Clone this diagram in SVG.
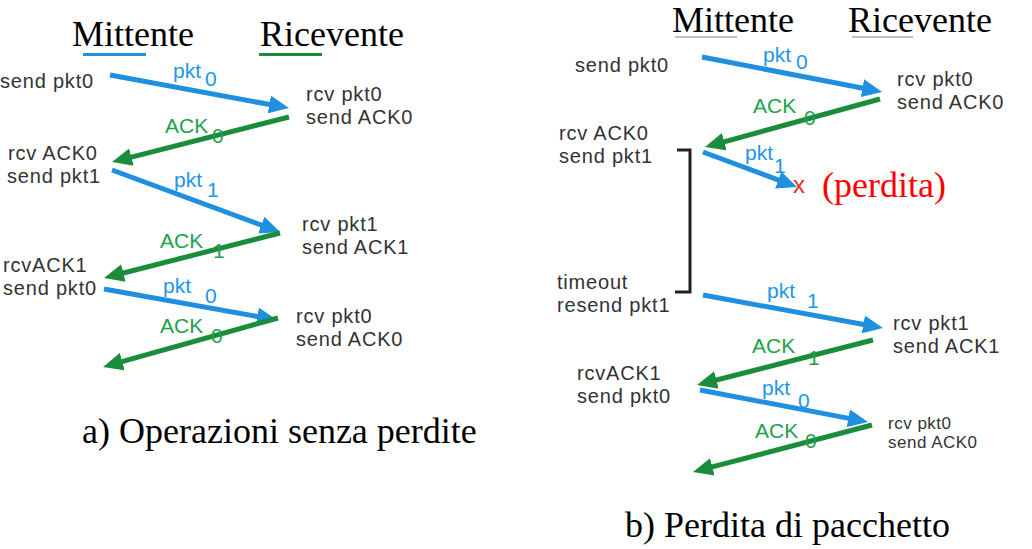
<svg xmlns="http://www.w3.org/2000/svg" width="1032" height="549" viewBox="0 0 1032 549">
<style>
.serif{font-family:"Liberation Serif","Times New Roman",serif;font-size:36px;fill:#000}
.lbl{font-family:"Liberation Sans",Arial,sans-serif;font-size:20px;letter-spacing:0.8px;fill:#333}
.small{font-size:17px;letter-spacing:0.5px}
.bl{font-family:"Liberation Sans",Arial,sans-serif;font-size:21px;fill:#2196e8}
.gl{font-family:"Liberation Sans",Arial,sans-serif;font-size:21px;fill:#22a04a}
.ab{stroke:#1f8fe0;stroke-width:5;fill:none;marker-end:url(#hb)}
.ag{stroke:#1b8c3c;stroke-width:5;fill:none;marker-end:url(#hg)}
</style>
<defs>
<marker id="hb" markerUnits="userSpaceOnUse" markerWidth="20" markerHeight="18" refX="6" refY="9" orient="auto"><path d="M0,0 L20,9 L0,18 z" fill="#1f8fe0"/></marker>
<marker id="hg" markerUnits="userSpaceOnUse" markerWidth="20" markerHeight="18" refX="6" refY="9" orient="auto"><path d="M0,0 L20,9 L0,18 z" fill="#1b8c3c"/></marker>
</defs>
<rect width="1032" height="549" fill="#fff"/>

<g id="panel-a-headers">
<text class="serif" x="72" y="46">Mittente</text>
<line x1="83" y1="54.5" x2="146" y2="54.5" stroke="#1f8fe0" stroke-width="3"/>
<text class="serif" x="260" y="46">Ricevente</text>
<line x1="259" y1="54.5" x2="322" y2="54.5" stroke="#1b8c3c" stroke-width="3"/>
</g>

<g id="a-sender-events">
<text class="lbl" x="0" y="88">send pkt0</text>
<text class="lbl" x="8" y="160">rcv ACK0</text>
<text class="lbl" x="7" y="183">send pkt1</text>
<text class="lbl" x="3" y="272">rcvACK1</text>
<text class="lbl" x="3" y="295">send pkt0</text>
</g>
<g id="a-receiver-events">
<text class="lbl" x="306" y="101">rcv pkt0</text>
<text class="lbl" x="306" y="124">send ACK0</text>
<text class="lbl" x="302" y="231">rcv pkt1</text>
<text class="lbl" x="302" y="254">send ACK1</text>
<text class="lbl" x="296" y="323">rcv pkt0</text>
<text class="lbl" x="296" y="346">send ACK0</text>
</g>

<g id="connectors">
<line class="ab" x1="110" y1="75" x2="275.2" y2="105.5"/>
<line class="ag" x1="289" y1="117" x2="125.6" y2="158.6"/>
<line class="ab" x1="112" y1="170" x2="266.9" y2="227.2"/>
<line class="ag" x1="280" y1="233" x2="117.6" y2="274.5"/>
<line class="ab" x1="104" y1="289" x2="263.2" y2="317.5"/>
<line class="ag" x1="278" y1="318" x2="116.5" y2="363.2"/>

<line class="ab" x1="702" y1="57" x2="868.3" y2="89.3"/>
<line class="ag" x1="880" y1="99" x2="718.5" y2="143.3"/>
<line class="ab" x1="703" y1="152" x2="783.9" y2="182.1"/>
<line class="ab" x1="703" y1="295" x2="869.2" y2="325.5"/>
<line class="ag" x1="873" y1="340" x2="710.6" y2="381.5"/>
<line class="ab" x1="700" y1="390" x2="854.2" y2="419.4"/>
<line class="ag" x1="872" y1="425" x2="706.5" y2="468.4"/>
<path d="M677,150 H690 V292 H675" fill="none" stroke="#222" stroke-width="3"/>
</g>

<g id="a-labels">
<text class="bl" x="173" y="78">pkt</text><text class="bl" x="205" y="86">0</text>
<text class="gl" x="165" y="133">ACK</text><text class="gl" x="212" y="143">0</text>
<text class="bl" x="174" y="187">pkt</text><text class="bl" x="207" y="197">1</text>
<text class="gl" x="160" y="248">ACK</text><text class="gl" x="213" y="258">1</text>
<text class="bl" x="163" y="293">pkt</text><text class="bl" x="205" y="303">0</text>
<text class="gl" x="160" y="333">ACK</text><text class="gl" x="211" y="343">0</text>
</g>

<g id="caption-a">
<text class="serif" x="82" y="443">a) Operazioni senza perdite</text>
</g>

<g id="panel-b-headers">
<text class="serif" x="672" y="32">Mittente</text>
<line x1="675" y1="37" x2="737" y2="37" stroke="#aaa" stroke-width="1.5"/>
<text class="serif" x="848" y="32">Ricevente</text>
<line x1="852" y1="37" x2="913" y2="37" stroke="#aaa" stroke-width="1.5"/>
</g>

<g id="b-sender-events">
<text class="lbl" x="575" y="72">send pkt0</text>
<text class="lbl" x="559" y="140">rcv ACK0</text>
<text class="lbl" x="559" y="163">send pkt1</text>
<text class="lbl" x="557" y="289">timeout</text>
<text class="lbl" x="557" y="312">resend pkt1</text>
<text class="lbl" x="577" y="380">rcvACK1</text>
<text class="lbl" x="577" y="403">send pkt0</text>
</g>
<g id="b-receiver-events">
<text class="lbl" x="897" y="86">rcv pkt0</text>
<text class="lbl" x="897" y="109">send ACK0</text>
<text class="lbl" x="893" y="330">rcv pkt1</text>
<text class="lbl" x="893" y="353">send ACK1</text>
<text class="lbl small" x="888" y="429">rcv pkt0</text>
<text class="lbl small" x="888" y="448">send ACK0</text>
</g>

<g id="b-labels">
<text class="bl" x="763" y="62">pkt</text><text class="bl" x="796" y="69">0</text>
<text class="gl" x="753" y="113">ACK</text><text class="gl" x="804" y="125">0</text>
<text class="bl" x="745" y="160">pkt</text><text class="bl" x="774" y="173">1</text>
<text class="bl" x="767" y="298">pkt</text><text class="bl" x="807" y="308">1</text>
<text class="gl" x="752" y="353">ACK</text><text class="gl" x="808" y="365">1</text>
<text class="bl" x="762" y="395">pkt</text><text class="bl" x="798" y="408">0</text>
<text class="gl" x="755" y="438">ACK</text><text class="gl" x="805" y="448">0</text>
</g>

<g id="loss">
<text x="793" y="193" font-family="Liberation Sans,Arial,sans-serif" font-size="24" fill="#e53030">x</text>
<text class="serif" x="822" y="197" style="fill:#ff0000">(perdita)</text>
</g>

<g id="caption-b">
<text class="serif" x="625" y="537">b) Perdita di pacchetto</text>
</g>
</svg>
